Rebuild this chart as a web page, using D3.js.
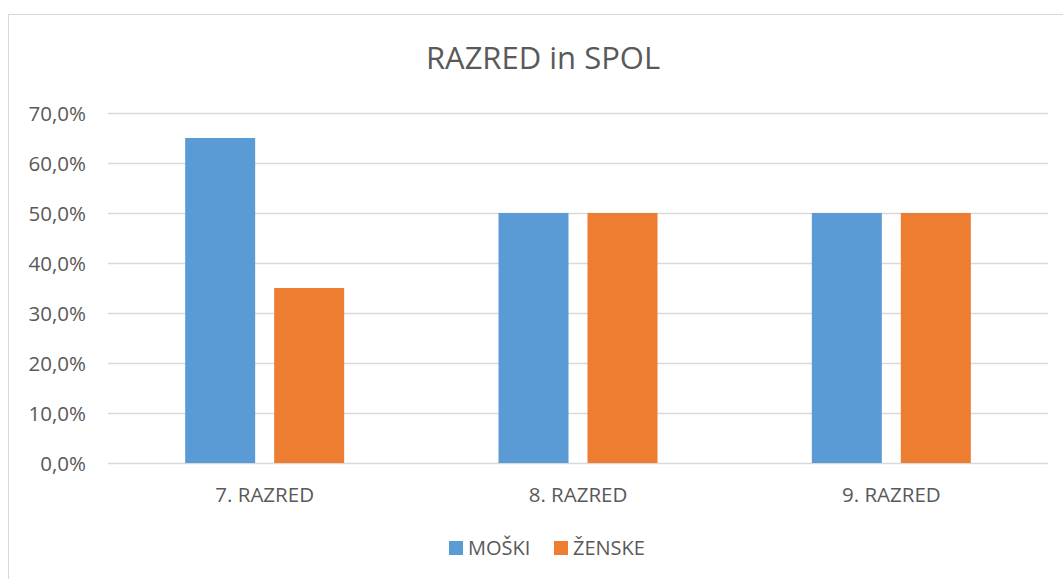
<!DOCTYPE html>
<html>
<head>
<meta charset="utf-8">
<script src="https://cdn.jsdelivr.net/npm/d3@7"></script>
<style>
  body { margin: 0; background: #fff; }
  text { font-family: "Open Sans", Lato, sans-serif; fill: #595959; }
</style>
</head>
<body>
<svg id="chart" width="1063" height="579"></svg>
<script>
// data
var categories = ['7. RAZRED', '8. RAZRED', '9. RAZRED'];
var seriesNames = ['MOŠKI', 'ŽENSKE'];
var moski = [0.65, 0.50, 0.50];
var zenske = [0.35, 0.50, 0.50];
var yTicks = [0, 0.1, 0.2, 0.3, 0.4, 0.5, 0.6, 0.7];
var colors = ['#5b9bd5', '#ed7d31'];

var svgWidth = 1063;
var svgHeight = 579;
var plotLeft = 108, plotRight = 1048, plotTop = 113, plotBottom = 463;

var svg = d3.select('#chart');

// chart frame
svg.append('rect')
  .attr('x', 8.5).attr('y', 14.5)
  .attr('width', 1060).attr('height', 600)
  .attr('fill', 'none')
  .attr('stroke', '#d9d9d9')
  .attr('stroke-width', 1);

var locale = d3.formatLocale({ decimal: ',', thousands: '.', grouping: [3], currency: ['', '€'] });
var pct = locale.format('.1%');

// scales
var y = d3.scaleLinear().domain([0, 0.7]).range([plotBottom, plotTop]);
var x0 = d3.scaleBand().domain(categories).range([plotLeft, plotRight]).padding(0);

// gridlines
svg.append('g')
  .selectAll('line')
  .data(yTicks)
  .enter()
  .append('line')
  .attr('x1', plotLeft).attr('x2', plotRight)
  .attr('y1', function (d) { return Math.round(y(d)) + 0.5; })
  .attr('y2', function (d) { return Math.round(y(d)) + 0.5; })
  .attr('stroke', '#d9d9d9')
  .attr('stroke-width', 1.3);

// y axis labels
var yAxis = d3.axisLeft(y).tickValues(yTicks).tickFormat(pct).tickSize(0).tickPadding(0);
var gy = svg.append('g')
  .attr('transform', 'translate(86,0)')
  .call(yAxis);
gy.select('.domain').remove();
gy.selectAll('text')
  .style('font-size', '20.5px')
  .attr('fill', '#595959')
  .attr('dy', '0.36em');

// x axis labels
var xAxis = d3.axisBottom(x0).tickSize(0).tickPadding(0);
var gx = svg.append('g')
  .attr('transform', 'translate(0,' + plotBottom + ')')
  .call(xAxis);
gx.select('.domain').remove();
gx.selectAll('text')
  .style('font-size', '20.5px')
  .attr('fill', '#595959')
  .attr('dy', '0')
  .attr('y', 39);

// bars
var rows = categories.map(function (c, i) {
  return { cat: c, values: [moski[i], zenske[i]] };
});

var groups = svg.selectAll('.group')
  .data(rows)
  .enter()
  .append('g')
  .attr('class', 'group');

groups.each(function (row) {
  var cx = x0(row.cat) + x0.bandwidth() / 2;
  var x1 = d3.scaleBand()
    .domain(seriesNames)
    .range([cx - 79.5, cx + 79.5])
    .paddingInner(19 / 89);
  d3.select(this).selectAll('rect')
    .data(row.values)
    .enter()
    .append('rect')
    .attr('x', function (d, i) { return x1(seriesNames[i]); })
    .attr('y', function (d) { return y(d); })
    .attr('width', x1.bandwidth())
    .attr('height', function (d) { return plotBottom - y(d); })
    .attr('fill', function (d, i) { return colors[i]; });
});

// title
svg.append('text')
  .attr('x', 543)
  .attr('y', 69)
  .style('text-anchor', 'middle')
  .style('font-size', '31px')
  .style('font-weight', 400)
  .text('RAZRED in SPOL');

// legend
var legendX = [449, 554];
var legend = svg.selectAll('.legend')
  .data(seriesNames)
  .enter()
  .append('g')
  .attr('class', 'legend')
  .attr('transform', function (d, i) { return 'translate(' + legendX[i] + ',541)'; });

legend.append('rect')
  .attr('width', 14).attr('height', 14)
  .attr('fill', function (d, i) { return colors[i]; });

legend.append('text')
  .attr('x', 19)
  .attr('y', 14)
  .style('font-size', '20px')
  .text(function (d) { return d; });
</script>
</body>
</html>
